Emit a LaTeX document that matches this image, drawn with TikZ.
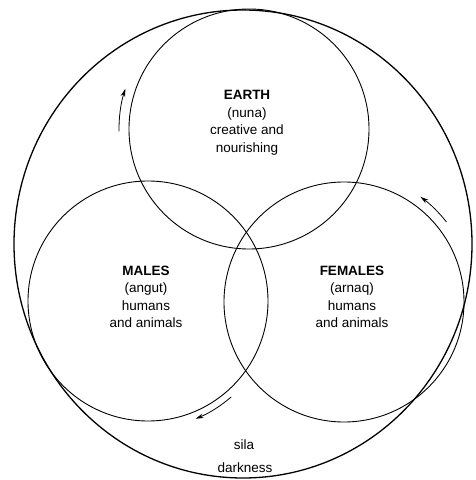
\documentclass[tikz,border=0pt]{standalone}
\usepackage{fontspec}
\setmainfont{Liberation Sans}
\usetikzlibrary{arrows.meta}
\begin{document}
\begin{tikzpicture}[x=1pt,y=1pt,
  ring/.style={circle,draw,line width=0.9pt,minimum size=240pt,inner sep=0pt},
  lbl/.style={align=center,font=\fontsize{13.5}{17.5}\selectfont,inner sep=0pt},
  flow/.style={line width=0.8pt,-{Stealth[length=8pt,width=4.5pt]}}]
\useasboundingbox (0,0) rectangle (476,480);
\draw[line width=1.3pt] (243,236) ellipse[x radius=229,y radius=234];
\node[ring] (earth) at (249,351) {};
\node[ring] (males) at (148,179) {};
\node[ring] (females) at (344,178) {};
\node[lbl] (tearth) at (247,357) {\textbf{EARTH}\\(nuna)\\creative and\\nourishing};
\node[lbl] (tmales) at (146,183) {\textbf{MALES}\\(angut)\\humans\\and animals};
\node[lbl] (tfemales) at (352,183) {\textbf{FEMALES}\\(arnaq)\\humans\\and animals};
\node[lbl] (sila) at (244,35) {sila};
\node[lbl] (dark) at (245,12) {darkness};
\draw[flow] ([shift={(181:130)}]earth.center) arc[start angle=181,end angle=162,radius=130];
\draw[flow] ([shift={(38:130)}]females.center) arc[start angle=38,end angle=54,radius=130];
\draw[flow] ([shift={(-49:127)}]males.center) arc[start angle=-49,end angle=-68,radius=127];
\end{tikzpicture}
\end{document}
